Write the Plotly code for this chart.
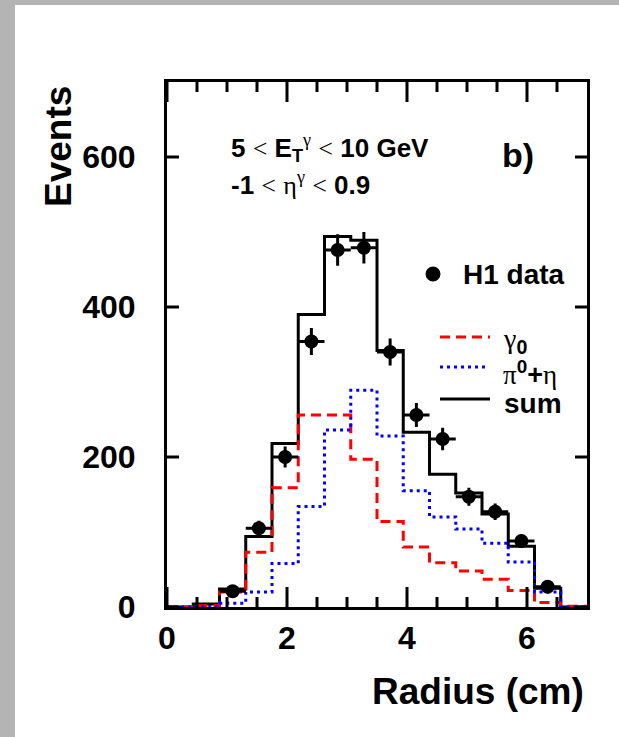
import plotly.graph_objects as go

# ---------------- data ----------------
bin_edges = [0.0, 0.4375, 0.875, 1.3125, 1.75, 2.1875, 2.625, 3.0625, 3.5,
             3.9375, 4.375, 4.8125, 5.25, 5.6875, 6.125, 6.5625, 7.0]
gamma0 = [0, 2, 20, 73, 159, 256, 256, 197, 114, 80, 59, 48, 37, 22, 6, 1]
pi0_eta = [0, 1, 5, 20, 58, 134, 236, 289, 228, 155, 120, 104, 85, 60, 20, 0]
mc_sum = [0, 4, 24, 94, 218, 390, 494, 489, 342, 233, 177, 152, 124, 81, 25, 0]

data_x = [1.09375, 1.53125, 1.96875, 2.40625, 2.84375, 3.28125, 3.71875,
          4.15625, 4.59375, 5.03125, 5.46875, 5.90625, 6.34375]
data_y = [21, 105, 200, 354, 476, 479, 340, 256, 224, 147, 127, 88, 27]
data_yerr = [5, 10, 14, 18, 21, 21, 18, 16, 15, 12, 11, 9, 5]
data_xerr = [0.21875] * len(data_x)

x_range = [0, 7]
y_range = [0, 700]
x_ticks = [0, 2, 4, 6]
x_minor_ticks = [0.5, 1, 1.5, 2.5, 3, 3.5, 4.5, 5, 5.5, 6.5]
y_ticks = [0, 200, 400, 600]

# ---------------- geometry helpers (pixel -> paper) ----------------
W, H = 619, 737
L, R, T, B = 167, 587, 82, 607
PW, PH = R - L, B - T


def px(x):
    return (x - L) / PW


def py(y):
    return (B - y) / PH


SANS = "Liberation Sans"
ser = "<span style='font-family:Liberation Serif;font-weight:normal'>%s</span>"

fig = go.Figure()


def step(vals):
    return list(vals) + [vals[-1]]


fig.add_trace(go.Scatter(x=bin_edges, y=step(mc_sum), mode="lines",
                         line=dict(color="black", width=3, shape="hv")))
fig.add_trace(go.Scatter(x=bin_edges, y=step(gamma0), mode="lines",
                         line=dict(color="#ff0000", width=3, shape="hv", dash="10px,6px")))
fig.add_trace(go.Scatter(x=bin_edges, y=step(pi0_eta), mode="lines",
                         line=dict(color="#0000ff", width=3, shape="hv", dash="3px,4px")))
fig.add_trace(go.Scatter(
    x=data_x, y=data_y, mode="markers",
    marker=dict(color="black", size=14),
    error_x=dict(type="data", array=data_xerr, width=0, thickness=3, color="black"),
    error_y=dict(type="data", array=data_yerr, width=0, thickness=3, color="black"),
))

axis_common = dict(
    showline=True, linecolor="black", linewidth=3, mirror=True,
    ticks="", showgrid=False, zeroline=False,
    tickfont=dict(family=SANS, size=32, color="black", weight="bold"),
)

fig.update_xaxes(range=x_range, tickvals=x_ticks, ticklabelstandoff=1, **axis_common)
fig.update_yaxes(range=y_range, tickvals=y_ticks, ticklabelstandoff=22, **axis_common)

annotations = [
    dict(text="<b>Events</b>", x=px(58), y=py(146), textangle=-90,
         font=dict(family=SANS, size=37, color="black")),
    dict(text="<b>Radius (cm)</b>", x=px(586), y=py(691), xanchor="right",
         font=dict(family=SANS, size=37, color="black")),
    dict(text="<b>b)</b>", x=px(500), y=py(155), xanchor="left",
         font=dict(family=SANS, size=34, color="black")),
    dict(text="<b>5</b> " + ser % "&lt;" + " <b>E</b><sub><b>T</b></sub><sup>" + ser % "γ" + "</sup> "
              + ser % "&lt;" + " <b>10 GeV</b>",
         x=px(229), y=py(148), xanchor="left",
         font=dict(family=SANS, size=26, color="black")),
    dict(text="<b>-1</b> " + ser % "&lt;" + " " + ser % "η" + "<sup>" + ser % "γ" + "</sup> "
              + ser % "&lt;" + " <b>0.9</b>",
         x=px(229), y=py(183), xanchor="left",
         font=dict(family=SANS, size=26, color="black")),
    dict(text="<b>H1 data</b>", x=px(461), y=py(274), xanchor="left",
         font=dict(family=SANS, size=28, color="black")),
    dict(text=ser % "γ" + "<sub><b>0</b></sub>", x=px(501), y=py(340), xanchor="left",
         font=dict(family=SANS, size=28, color="black")),
    dict(text=ser % "π" + "<sup><b>0</b></sup><b>+</b>" + ser % "η", x=px(501), y=py(373), xanchor="left",
         font=dict(family=SANS, size=27, color="black")),
    dict(text="<b>sum</b>", x=px(502), y=py(403), xanchor="left",
         font=dict(family=SANS, size=28, color="black")),
]
for a in annotations:
    a.update(xref="paper", yref="paper", showarrow=False)
    a.setdefault("xanchor", "center")
    a.setdefault("yanchor", "middle")

shapes = [
    # grey frame of the page
    dict(type="rect", xref="paper", yref="paper", x0=px(0), x1=px(15), y0=py(0), y1=py(H),
         fillcolor="#b4b4b4", line=dict(width=0), layer="below"),
    dict(type="rect", xref="paper", yref="paper", x0=px(0), x1=px(W), y0=py(0), y1=py(5),
         fillcolor="#b4b4b4", line=dict(width=0), layer="below"),
    # legend symbols
    dict(type="circle", xref="paper", yref="paper", x0=px(425.5), x1=px(440.5),
         y0=py(266.5), y1=py(281.5), fillcolor="black", line=dict(width=0)),
    dict(type="line", xref="paper", yref="paper", x0=px(440), x1=px(490), y0=py(337), y1=py(337),
         line=dict(color="#ff0000", width=3, dash="10px,6px")),
    dict(type="line", xref="paper", yref="paper", x0=px(440), x1=px(488), y0=py(367), y1=py(367),
         line=dict(color="#0000ff", width=3, dash="3px,4px")),
    dict(type="line", xref="paper", yref="paper", x0=px(440), x1=px(490), y0=py(399), y1=py(399),
         line=dict(color="black", width=3)),
]

# inward tick marks on all four sides (positions from the tick arrays, placed by the axes)
tick_line = dict(color="black", width=3)
for v, ln in [(t, 20) for t in x_ticks] + [(t, 10) for t in x_minor_ticks]:
    shapes.append(dict(type="line", xref="x", yref="paper", x0=v, x1=v, y0=0, y1=ln / PH,
                       line=tick_line))
    shapes.append(dict(type="line", xref="x", yref="paper", x0=v, x1=v, y0=1, y1=1 - ln / PH,
                       line=tick_line))
for v in y_ticks:
    shapes.append(dict(type="line", xref="paper", yref="y", x0=0, x1=12 / PW, y0=v, y1=v,
                       line=tick_line))
    shapes.append(dict(type="line", xref="paper", yref="y", x0=1, x1=1 - 12 / PW, y0=v, y1=v,
                       line=tick_line))

fig.update_layout(
    width=W, height=H,
    margin=dict(l=L, r=W - R, t=T, b=H - B),
    plot_bgcolor="white", paper_bgcolor="white",
    showlegend=False,
    annotations=annotations, shapes=shapes,
    font=dict(family=SANS, color="black"),
)

fig.write_html("out.html")
